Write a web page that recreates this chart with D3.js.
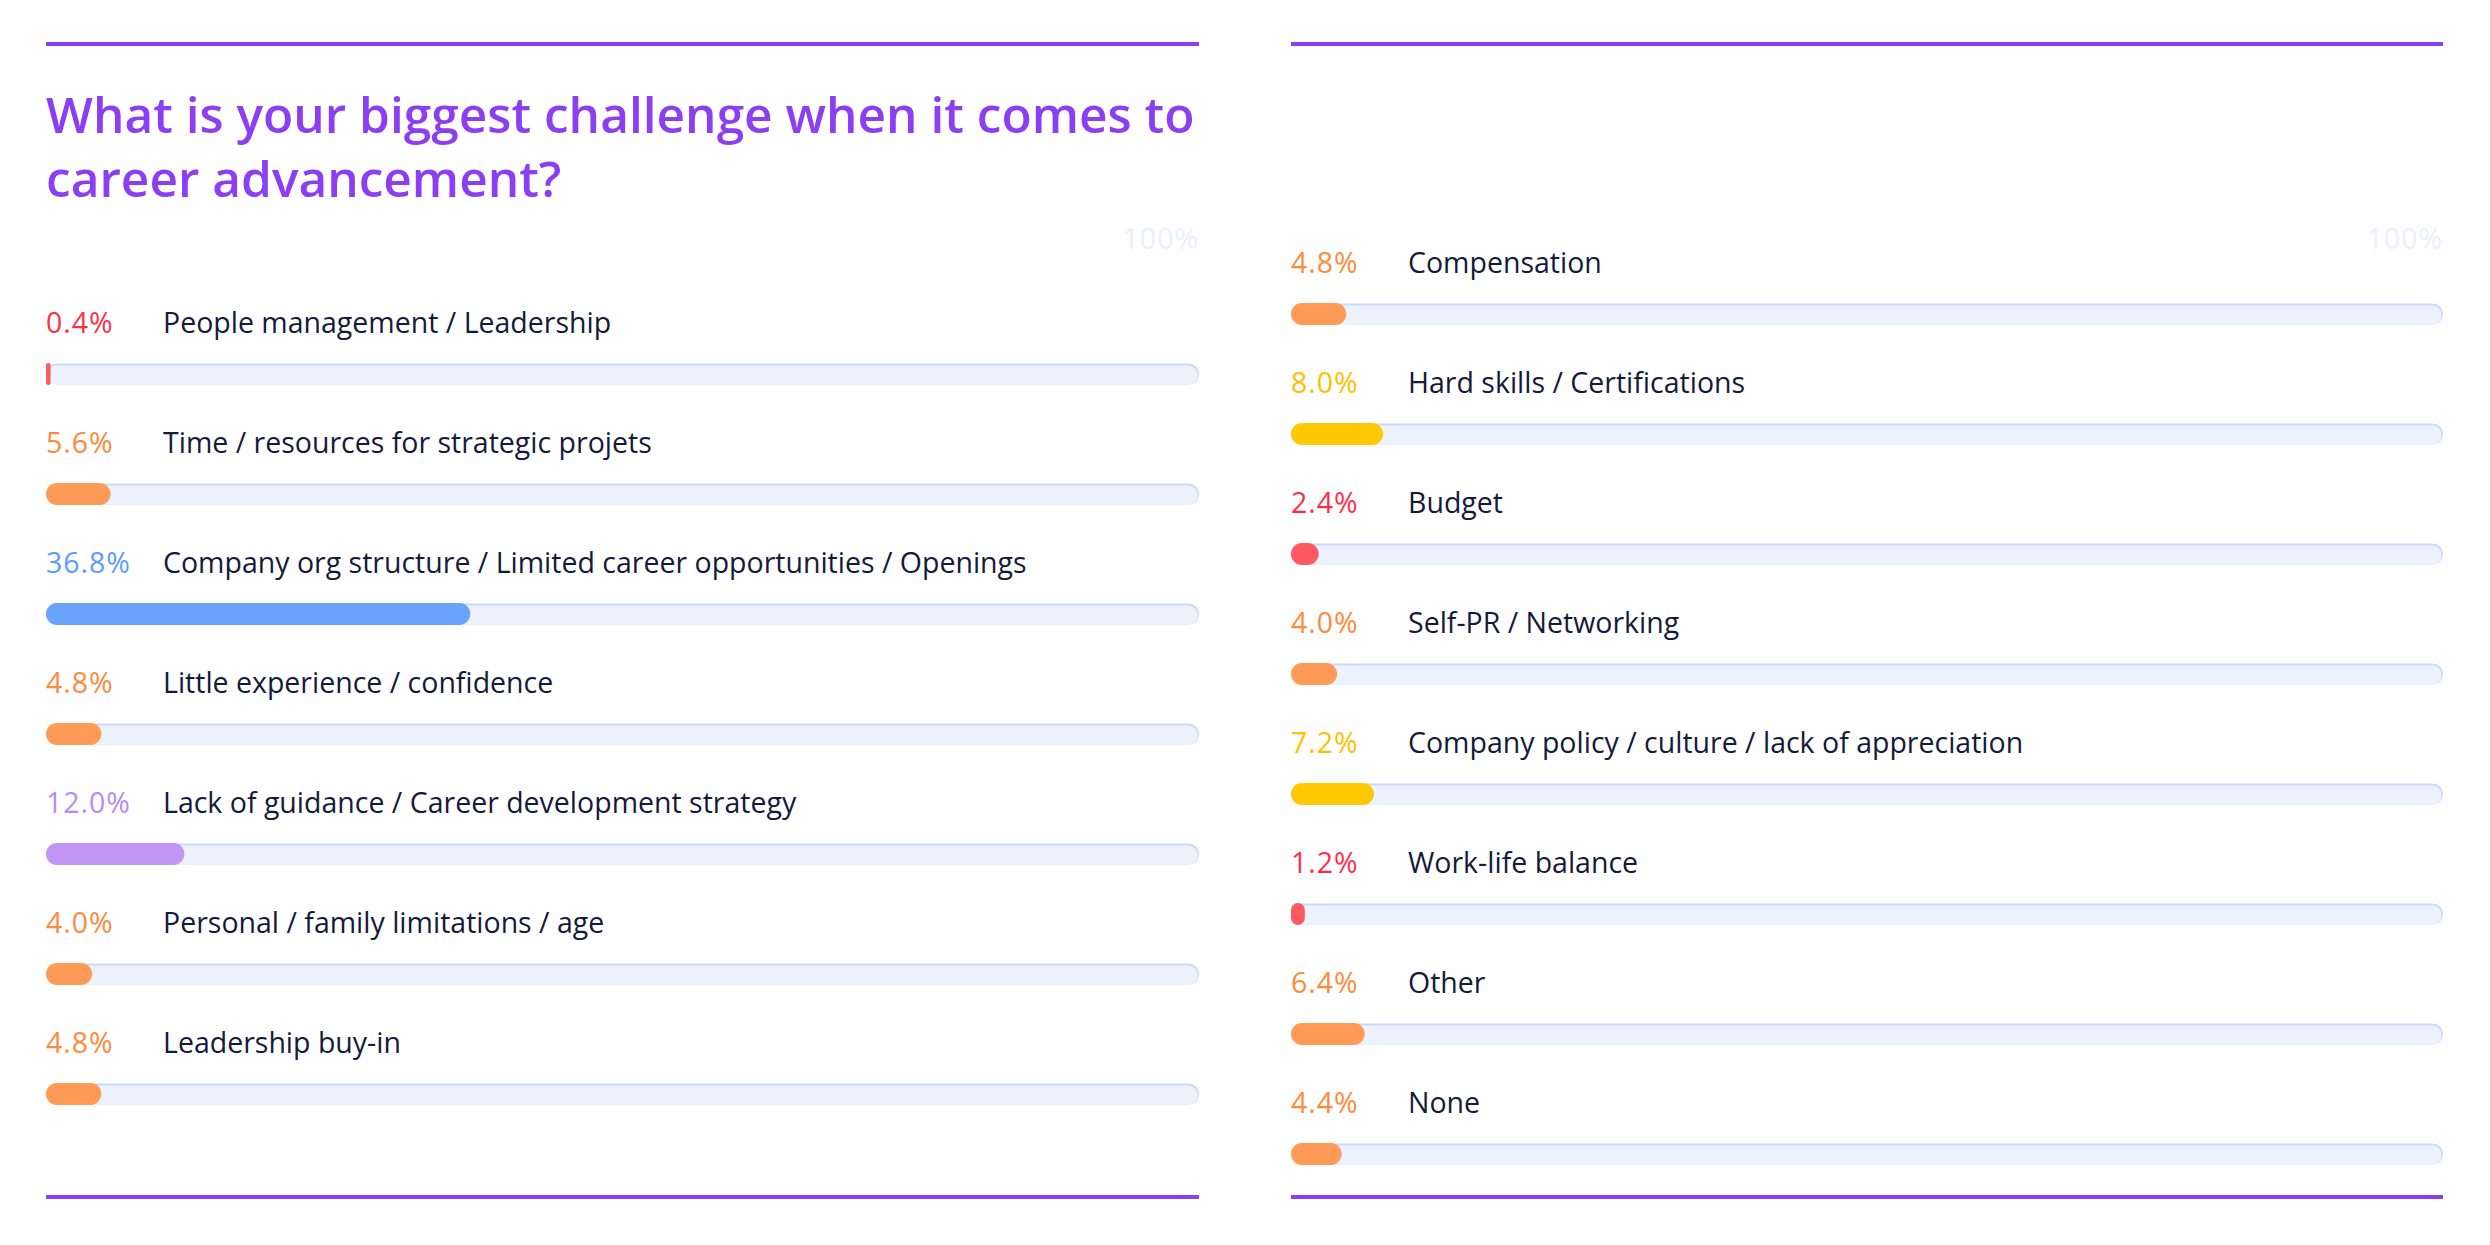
<!DOCTYPE html>
<html>
<head>
<meta charset="utf-8">
<script src="https://cdn.jsdelivr.net/npm/d3@7/dist/d3.min.js"></script>
<style>
  html, body { margin: 0; padding: 0; background: #ffffff; }
  svg { display: block; }
  text { font-family: "Open Sans", Lato, sans-serif; }
</style>
</head>
<body>
<svg id="chart" width="2490" height="1245"></svg>
<script>
// ---- data ----
const titleLines = ["What is your biggest challenge when it comes to", "career advancement?"];
const leftCategories = [
  "People management / Leadership",
  "Time / resources for strategic projets",
  "Company org structure / Limited career opportunities / Openings",
  "Little experience / confidence",
  "Lack of guidance / Career development strategy",
  "Personal / family limitations / age",
  "Leadership buy-in"
];
const leftValues = [0.4, 5.6, 36.8, 4.8, 12.0, 4.0, 4.8];
const leftTones = ["red", "orange", "blue", "orange", "purple", "orange", "orange"];

const rightCategories = [
  "Compensation",
  "Hard skills / Certifications",
  "Budget",
  "Self-PR / Networking",
  "Company policy / culture / lack of appreciation",
  "Work-life balance",
  "Other",
  "None"
];
const rightValues = [4.8, 8.0, 2.4, 4.0, 7.2, 1.2, 6.4, 4.4];
const rightTones = ["orange", "yellow", "red", "orange", "yellow", "red", "orange", "orange"];

const scaleTickLabels = ["100%"];
const scaleMax = 100;

// ---- styles ----
const textColor = { red: "#ff2e48", orange: "#ff8a3a", blue: "#5e9bff", purple: "#b98af6", yellow: "#ffbf00" };
const barColor  = { red: "#ff5a62", orange: "#ff9a57", blue: "#6aa3fc", purple: "#c194f5", yellow: "#ffc800" };
const accent = "#8b3ef2";

const svg = d3.select("#chart");

function drawPanel(cfg) {
  const g = svg.append("g");
  const x = d3.scaleLinear().domain([0, scaleMax]).range([cfg.x0, cfg.x1]);
  const y = d3.scaleBand().domain(cfg.categories).range([cfg.firstCenter - 60, cfg.firstCenter - 60 + 120 * cfg.categories.length]).padding(0);
  const rows = cfg.categories.map((c, i) => ({ c, v: cfg.values[i], t: cfg.tones[i] }));

  // top & bottom rules
  g.append("rect").attr("x", x(0)).attr("y", 42).attr("width", x(scaleMax) - x(0)).attr("height", 4).attr("fill", accent);
  g.append("rect").attr("x", x(0)).attr("y", 1195).attr("width", x(scaleMax) - x(0)).attr("height", 4).attr("fill", accent);

  // 100% tick label
  g.append("text").attr("x", x(scaleMax)).attr("y", 249).attr("text-anchor", "end")
    .attr("font-size", 28.5).attr("letter-spacing", 1).attr("fill", "#e9effc").text(scaleTickLabels[0]);

  const bh = 21;
  const row = g.selectAll("g.row").data(rows).join("g").attr("class", "row");
  const cy = d => y(d.c) + y.bandwidth() / 2;

  row.append("text").attr("x", x(0)).attr("y", d => cy(d) - 41)
    .attr("font-size", 28.5).attr("letter-spacing", 1).attr("fill", d => textColor[d.t]).text(d => d.v.toFixed(1) + "%");
  row.append("text").attr("x", x(0) + 117).attr("y", d => cy(d) - 41)
    .attr("font-size", 28.5).attr("fill", "#161a3a").text(d => d.c);

  // track: border layer + fill layer
  row.append("rect").attr("x", x(0)).attr("y", d => cy(d) - bh / 2)
    .attr("width", x(scaleMax) - x(0)).attr("height", bh).attr("rx", bh / 2).attr("fill", "#c8dbfb");
  row.append("rect").attr("x", x(0)).attr("y", d => cy(d) - bh / 2 + 2)
    .attr("width", x(scaleMax) - x(0) - 1.5).attr("height", bh - 2).attr("rx", (bh - 2) / 2).attr("fill", "#edf3fe");

  // value bar
  row.append("rect").attr("x", x(0)).attr("y", d => cy(d) - 11)
    .attr("width", d => Math.max(4, x(d.v) - x(0))).attr("height", 22)
    .attr("rx", d => Math.min(11, Math.max(4, x(d.v) - x(0)) / 2))
    .attr("fill", d => barColor[d.t]);
}

// title
svg.append("text").attr("x", 46).attr("font-size", 49.6).attr("font-weight", 600).attr("fill", accent)
  .selectAll("tspan").data(titleLines).join("tspan")
  .attr("x", 46).attr("y", (d, i) => 133 + i * 64).text(d => d);

drawPanel({ x0: 46, x1: 1199, firstCenter: 374, categories: leftCategories, values: leftValues, tones: leftTones });
drawPanel({ x0: 1291, x1: 2443, firstCenter: 314, categories: rightCategories, values: rightValues, tones: rightTones });
</script>
</body>
</html>
